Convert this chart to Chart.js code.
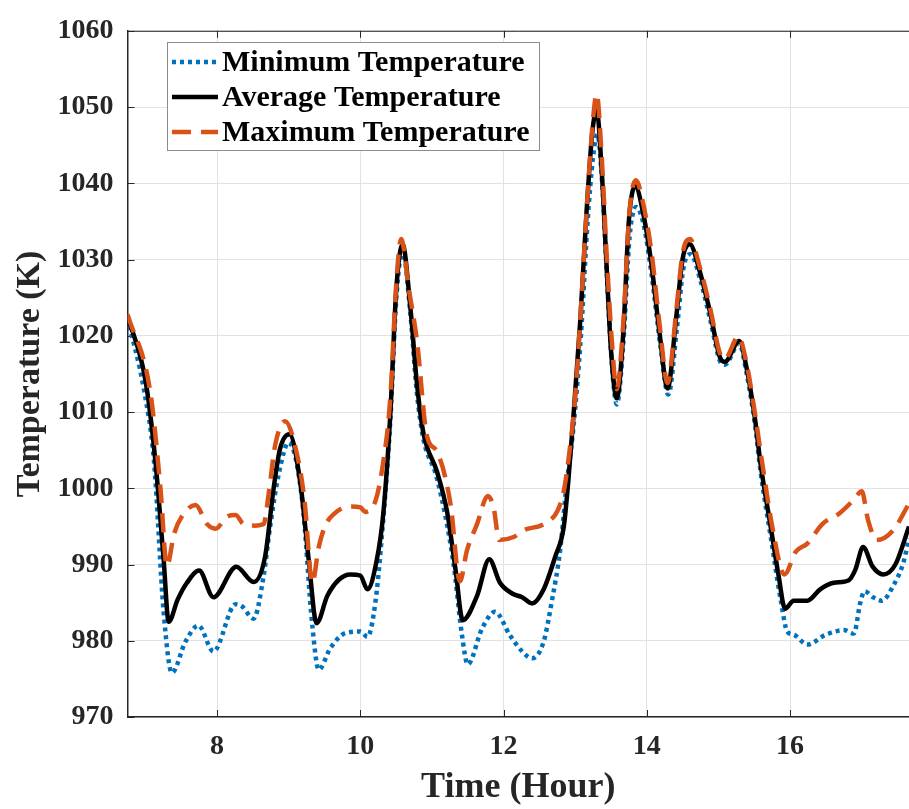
<!DOCTYPE html>
<html>
<head>
<meta charset="utf-8">
<title>Temperature (K)</title>
<script src="https://cdn.jsdelivr.net/npm/chart.js@4.4.1/dist/chart.umd.min.js"></script>
<style>
  html, body { margin: 0; padding: 0; background: #fff; }
</style>
</head>
<body>
<canvas id="tempChart" width="909" height="809"></canvas>
<script>
// hour / temperature samples for each curve
const minHours = [6.75, 6.98, 7.12, 7.255, 7.37, 7.56, 7.74, 7.95, 8.26, 8.35, 8.51, 8.65, 8.74, 8.86, 9.0, 9.19, 9.33, 9.42,
  9.58, 9.79, 10.0, 10.1, 10.21, 10.3, 10.42, 10.5, 10.59, 10.7, 10.79, 10.88, 11.07, 11.3, 11.42, 11.5, 11.7, 11.88,
  12.09, 12.28, 12.4, 12.56, 12.67, 12.79, 12.88, 12.97, 13.08, 13.17, 13.25, 13.31, 13.38, 13.45, 13.51, 13.58, 13.67,
  13.76, 13.85, 13.95, 14.07, 14.19, 14.3, 14.42, 14.51, 14.61, 14.75, 14.89, 15.03, 15.09, 15.29, 15.39, 15.51, 15.59,
  15.73, 15.87, 15.96, 16.05, 16.24, 16.49, 16.75, 16.89, 16.98, 17.04, 17.16, 17.28, 17.44, 17.58, 17.66];
const minTemps = [1022.3, 1012.9, 1003.5, 983.7, 975.8, 979.9, 982.0, 978.6, 984.8, 984.5, 982.9, 988.5, 994.9, 1001.8, 1006.0, 998.3, 982.0, 976.2,
  979.0, 981.0, 981.2, 980.5, 985.0, 993.6, 1009.0, 1024.5, 1031.2, 1022.8, 1012.5, 1006.5, 1001.3, 990.2, 980.7, 976.9, 981.6, 983.8,
  980.7, 978.4, 977.7, 979.9, 985.0, 991.9, 1000.5, 1007.5, 1020.0, 1034.5, 1043.5, 1046.4, 1039.5, 1026.5, 1016.5, 1011.0, 1018.8,
  1033.0, 1036.9, 1034.8, 1027.8, 1018.6, 1012.3, 1021.0, 1028.8, 1030.7, 1027.2, 1021.9, 1016.5, 1016.2, 1019.0, 1015.2, 1008.3, 1002.0,
  993.6, 985.3, 981.2, 980.8, 979.5, 980.75, 981.4, 980.95, 985.0, 986.5, 985.7, 985.25, 987.2, 990.2, 993.4];

const avgHours = [6.75, 7.0, 7.14, 7.255, 7.325, 7.45, 7.58, 7.75, 7.95, 8.27, 8.51, 8.67, 8.79, 8.88, 9.01, 9.16, 9.28, 9.39,
  9.54, 9.7, 9.86, 10.0, 10.1, 10.23, 10.32, 10.42, 10.5, 10.59, 10.7, 10.79, 10.88, 11.07, 11.21, 11.33, 11.43, 11.63, 11.8,
  11.95, 12.12, 12.26, 12.4, 12.56, 12.72, 12.84, 12.9, 12.97, 13.07, 13.16, 13.24, 13.3, 13.37, 13.44, 13.5, 13.58, 13.67,
  13.75, 13.84, 13.94, 14.06, 14.18, 14.29, 14.41, 14.5, 14.6, 14.74, 14.88, 15.02, 15.09, 15.29, 15.39, 15.51, 15.59, 15.73,
  15.84, 15.93, 16.05, 16.24, 16.42, 16.61, 16.82, 16.91, 17.02, 17.15, 17.3, 17.47, 17.66];
const avgTemps = [1022.6, 1014.2, 1003.5, 990.6, 982.5, 985.4, 987.6, 989.2, 985.7, 989.7, 987.7, 991.0, 1000.0, 1005.2, 1007.1, 1000.9, 990.6, 982.3,
  985.9, 988.0, 988.7, 988.55, 986.75, 990.6, 996.6, 1009.9, 1025.8, 1032.0, 1023.6, 1013.8, 1007.3, 1002.2, 997.0, 989.3, 982.7, 985.9, 990.7,
  987.6, 986.2, 985.7, 984.9, 986.75, 991.0, 994.9, 1000.5, 1008.8, 1021.9, 1036.5, 1046.8, 1049.6, 1041.7, 1028.8, 1018.1, 1011.8, 1020.2,
  1035.2, 1039.6, 1036.5, 1029.7, 1020.2, 1013.1, 1022.4, 1030.1, 1032.0, 1028.4, 1023.2, 1017.2, 1016.6, 1019.3, 1015.9, 1009.1, 1003.05, 994.9,
  988.5, 984.2, 985.25, 985.25, 986.75, 987.6, 987.95, 989.3, 992.3, 989.75, 988.7, 990.0, 995.0];

const maxHours = [6.75, 7.07, 7.21, 7.3, 7.4, 7.53, 7.7, 7.86, 7.98, 8.14, 8.26, 8.37, 8.53, 8.65, 8.72, 8.81, 8.95, 9.12, 9.22,
  9.33, 9.42, 9.51, 9.63, 9.84, 10.0, 10.07, 10.21, 10.3, 10.42, 10.5, 10.57, 10.68, 10.79, 10.93, 11.07, 11.26, 11.39, 11.49,
  11.63, 11.78, 11.86, 11.94, 12.14, 12.28, 12.56, 12.75, 12.84, 12.92, 13.0, 13.08, 13.17, 13.25, 13.3, 13.37, 13.44, 13.51,
  13.58, 13.67, 13.76, 13.85, 13.95, 14.07, 14.18, 14.29, 14.41, 14.5, 14.6, 14.74, 14.88, 15.02, 15.09, 15.28, 15.39, 15.51,
  15.6, 15.76, 15.92, 16.08, 16.24, 16.45, 16.7, 16.89, 17.0, 17.09, 17.21, 17.44, 17.66];
const maxTemps = [1022.8, 1012.5, 1000.0, 989.8, 994.0, 996.6, 997.8, 995.3, 994.7, 996.3, 996.5, 995.3, 995.1, 995.3, 999.2, 1005.6, 1008.8, 1004.3, 998.5,
  987.6, 992.3, 995.1, 996.6, 997.6, 997.5, 996.9, 998.3, 1002.2, 1012.0, 1026.5, 1032.7, 1026.0, 1019.4, 1006.9, 1004.8, 997.9, 987.8, 991.9,
  995.3, 999.0, 997.5, 993.2, 993.6, 994.5, 995.3, 997.0, 999.6, 1004.8, 1012.0, 1023.5, 1038.0, 1048.5, 1051.7, 1043.5, 1030.5, 1019.5,
  1013.0, 1021.5, 1036.5, 1040.4, 1037.3, 1030.6, 1021.3, 1013.8, 1023.2, 1030.8, 1032.7, 1029.0, 1023.8, 1017.7, 1017.0, 1019.9, 1016.5, 1009.8,
  1004.0, 994.5, 988.7, 991.7, 992.75, 995.3, 996.8, 998.5, 999.6, 995.75, 993.2, 994.5, 998.0];

const seriesNames = ["Minimum Temperature", "Average Temperature", "Maximum Temperature"];
const xTicks = [8, 10, 12, 14, 16];
const yTicks = [970, 980, 990, 1000, 1010, 1020, 1030, 1040, 1050, 1060];

const serif = "'Liberation Serif', 'Times New Roman', serif";
const axisColor = "#262626";

function toPoints(hours, temps) {
  return hours.map((h, i) => ({ x: h, y: temps[i] }));
}

// MATLAB-style inward tick marks plus the top box edge
const boxTicks = {
  id: "boxTicks",
  beforeDatasetsDraw(chart) {
    const { ctx, chartArea: a, scales: { x, y } } = chart;
    ctx.save();
    ctx.strokeStyle = axisColor;
    ctx.lineWidth = 1;
    ctx.beginPath();
    ctx.moveTo(a.left, a.top + 0.5);
    ctx.lineTo(a.right, a.top + 0.5);
    xTicks.forEach(v => {
      const px = Math.round(x.getPixelForValue(v)) + 0.5;
      ctx.moveTo(px, a.bottom);
      ctx.lineTo(px, a.bottom - 7);
      ctx.moveTo(px, a.top);
      ctx.lineTo(px, a.top + 7);
    });
    yTicks.forEach(v => {
      const py = Math.round(y.getPixelForValue(v)) + 0.5;
      ctx.moveTo(a.left, py);
      ctx.lineTo(a.left + 7, py);
    });
    ctx.stroke();
    ctx.restore();
  }
};

// boxed legend in the upper left of the plot
const boxLegend = {
  id: "boxLegend",
  afterDraw(chart) {
    const ctx = chart.ctx;
    const left = 167.5, top = 42.5, w = 372, h = 108;
    const rows = [62, 97, 132];
    ctx.save();
    ctx.fillStyle = "#fff";
    ctx.fillRect(left, top, w, h);
    ctx.strokeStyle = "#8c8c8c";
    ctx.lineWidth = 1;
    ctx.strokeRect(left, top, w, h);
    chart.data.datasets.forEach((ds, i) => {
      ctx.beginPath();
      ctx.strokeStyle = ds.borderColor;
      ctx.lineWidth = ds.borderWidth;
      ctx.setLineDash(ds.borderDash || []);
      ctx.moveTo(172, rows[i]);
      ctx.lineTo(218, rows[i]);
      ctx.stroke();
      ctx.setLineDash([]);
      ctx.fillStyle = "#000";
      ctx.font = "bold 30px " + serif;
      ctx.textBaseline = "middle";
      ctx.fillText(ds.label, 222, rows[i] + 1);
    });
    ctx.restore();
  }
};

new Chart(document.getElementById("tempChart"), {
  type: "line",
  data: {
    datasets: [
      {
        label: seriesNames[0],
        data: toPoints(minHours, minTemps),
        borderColor: "#0072BD",
        borderWidth: 4.5,
        borderDash: [4, 4],
        order: 3
      },
      {
        label: seriesNames[1],
        data: toPoints(avgHours, avgTemps),
        borderColor: "#000000",
        borderWidth: 4.5,
        order: 2
      },
      {
        label: seriesNames[2],
        data: toPoints(maxHours, maxTemps),
        borderColor: "#D95319",
        borderWidth: 4.5,
        borderDash: [19, 10],
        order: 1
      }
    ]
  },
  options: {
    responsive: false,
    animation: false,
    devicePixelRatio: 1,
    layout: { padding: { top: 17.5, right: 0, bottom: 0, left: 0 } },
    elements: {
      point: { radius: 0 },
      line: { cubicInterpolationMode: "monotone", fill: false }
    },
    plugins: {
      legend: { display: false },
      tooltip: { enabled: false }
    },
    scales: {
      x: {
        type: "linear",
        min: 6.75,
        max: 17.66,
        afterBuildTicks: scale => { scale.ticks = xTicks.map(v => ({ value: v })); },
        afterFit: scale => { scale.height = 92; },
        grid: { color: "#e2e2e2", drawTicks: false, tickLength: 0 },
        border: { display: true, color: axisColor, width: 1.5 },
        ticks: {
          color: axisColor,
          padding: 13,
          maxRotation: 0,
          callback: v => String(v),
          font: { family: serif, size: 28, weight: "bold" }
        },
        title: {
          display: true,
          text: "Time (Hour)",
          color: axisColor,
          padding: { top: 0, bottom: 0 },
          font: { family: serif, size: 36, weight: "bold" }
        }
      },
      y: {
        min: 970,
        max: 1060,
        afterBuildTicks: scale => { scale.ticks = yTicks.map(v => ({ value: v })); },
        afterFit: scale => { scale.width = 127.5; },
        grid: { color: "#e2e2e2", drawTicks: false, tickLength: 0 },
        border: { display: true, color: axisColor, width: 1.5 },
        ticks: {
          color: axisColor,
          padding: 14,
          callback: v => String(v),
          font: { family: serif, size: 28, weight: "bold" }
        },
        title: {
          display: true,
          text: "Temperature (K)",
          color: axisColor,
          padding: { top: 10, bottom: 0 },
          font: { family: serif, size: 34, weight: "bold" }
        }
      }
    }
  },
  plugins: [boxTicks, boxLegend]
});
</script>
</body>
</html>
